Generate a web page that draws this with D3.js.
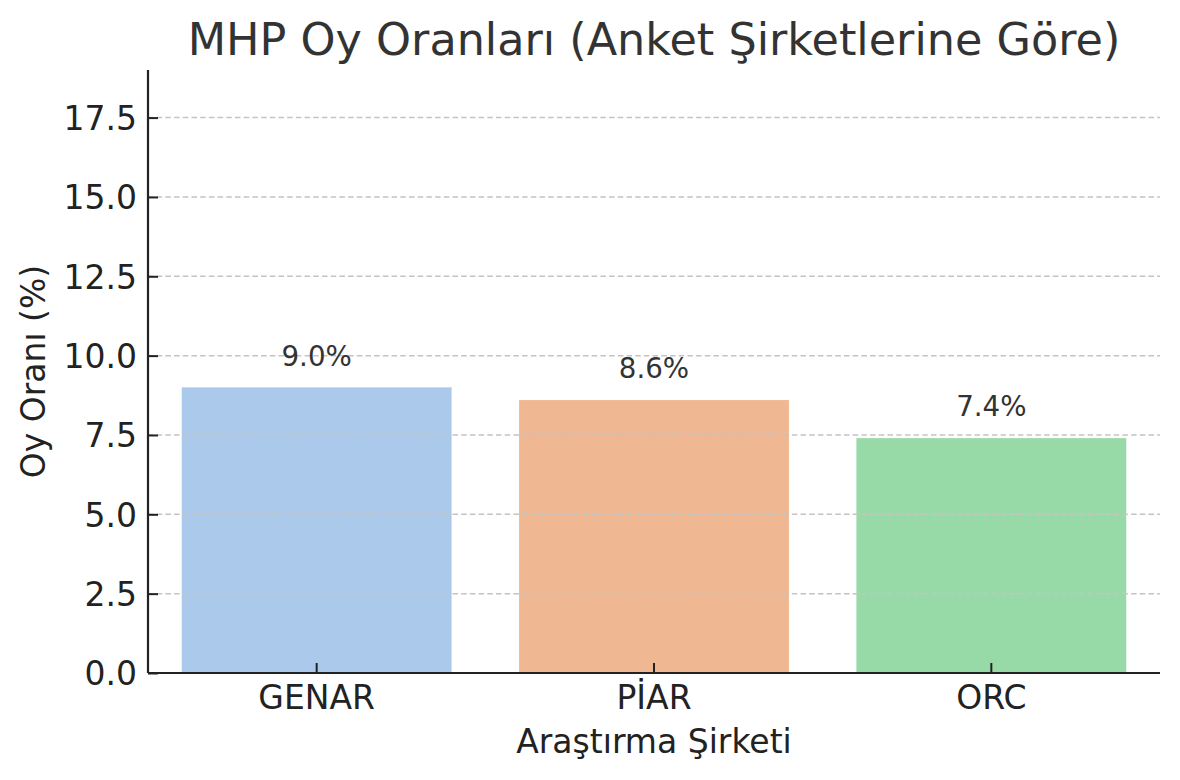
<!DOCTYPE html>
<html>
<head>
<meta charset="utf-8">
<script src="https://cdn.jsdelivr.net/npm/d3@7"></script>
<style>
  body { margin: 0; background: #fff; }
  text { font-family: "DejaVu Sans", sans-serif; }
</style>
</head>
<body>
<div id="chart"></div>
<script>
const w = 1180;
const h = 780;

// data
const companies = ["GENAR", "PİAR", "ORC"];
const voteShares = [9.0, 8.6, 7.4];
const yTicks = [0, 2.5, 5, 7.5, 10, 12.5, 15, 17.5];
const yMax = 19.0;

const palette = ["#abc9eb", "#efb792", "#98d9a8"];

const margin = {top: 70, right: 20, bottom: 107, left: 148};
const innerW = w - margin.left - margin.right;
const innerH = h - margin.top - margin.bottom;

const svg = d3.select("#chart").append("svg")
    .attr("width", w)
    .attr("height", h);

const g = svg.append("g")
    .attr("transform", "translate(" + margin.left + "," + margin.top + ")");

const x = d3.scaleBand()
    .domain(companies)
    .range([0, innerW])
    .paddingInner(0.2)
    .paddingOuter(0.1);

const y = d3.scaleLinear()
    .domain([0, yMax])
    .range([innerH, 0]);

const colorScale = d3.scaleOrdinal().domain(companies).range(palette);

const rows = companies.map((c, i) => ({name: c, value: voteShares[i]}));

// bars
g.selectAll(".bar")
    .data(rows)
    .enter().append("rect")
        .attr("class", "bar")
        .attr("x", d => x(d.name))
        .attr("y", d => y(d.value))
        .attr("width", x.bandwidth())
        .attr("height", d => innerH - y(d.value))
        .style("fill", d => colorScale(d.name));

// grid (drawn over the bars like the original)
g.append("g")
    .selectAll("line")
    .data(yTicks.filter(t => t > 0))
    .enter().append("line")
        .attr("x1", 0)
        .attr("x2", innerW)
        .attr("y1", d => y(d))
        .attr("y2", d => y(d))
        .style("stroke", "#c4c4c4")
        .style("stroke-width", 1.5)
        .style("stroke-dasharray", "5.5,3.2");

// value labels
g.selectAll(".bar-label")
    .data(rows)
    .enter().append("text")
        .attr("class", "bar-label")
        .attr("x", d => x(d.name) + x.bandwidth() / 2)
        .attr("y", d => y(d.value + 0.5) - 6)
        .attr("text-anchor", "middle")
        .style("font-size", "27.7px")
        .style("fill", "#333")
        .text(d => d.value.toFixed(1) + "%");

// y axis
const yAxis = g.append("g")
    .call(d3.axisLeft(y).tickValues(yTicks).tickSize(-10).tickPadding(11).tickFormat(d3.format(".1f")));
// x axis
const xAxis = g.append("g")
    .attr("transform", "translate(0," + innerH + ")")
    .call(d3.axisBottom(x).tickSize(-10).tickPadding(13));

[yAxis, xAxis].forEach(ax => {
    ax.select(".domain").style("stroke", "#222").style("stroke-width", 2.2);
    ax.selectAll(".tick line").style("stroke", "#222").style("stroke-width", 2);
    ax.selectAll(".tick text")
        .style("font-family", "DejaVu Sans, sans-serif")
        .style("font-size", "33px")
        .style("fill", "#222");
});
yAxis.select(".domain").attr("d", "M0," + innerH + "V0");
xAxis.select(".domain").attr("d", "M0,0H" + innerW);
yAxis.selectAll(".tick text").attr("dy", "0.36em");

// title
svg.append("text")
    .attr("x", margin.left + innerW / 2)
    .attr("y", 55)
    .attr("text-anchor", "middle")
    .style("font-size", "44.5px")
    .style("fill", "#333")
    .text("MHP Oy Oranları (Anket Şirketlerine Göre)");

// axis labels
svg.append("text")
    .attr("x", margin.left + innerW / 2)
    .attr("y", 753)
    .attr("text-anchor", "middle")
    .style("font-size", "33px")
    .style("fill", "#222")
    .text("Araştırma Şirketi");

svg.append("text")
    .attr("transform", "translate(45," + (margin.top + innerH / 2) + ") rotate(-90)")
    .attr("text-anchor", "middle")
    .style("font-size", "33px")
    .style("fill", "#222")
    .text("Oy Oranı (%)");
</script>
</body>
</html>
